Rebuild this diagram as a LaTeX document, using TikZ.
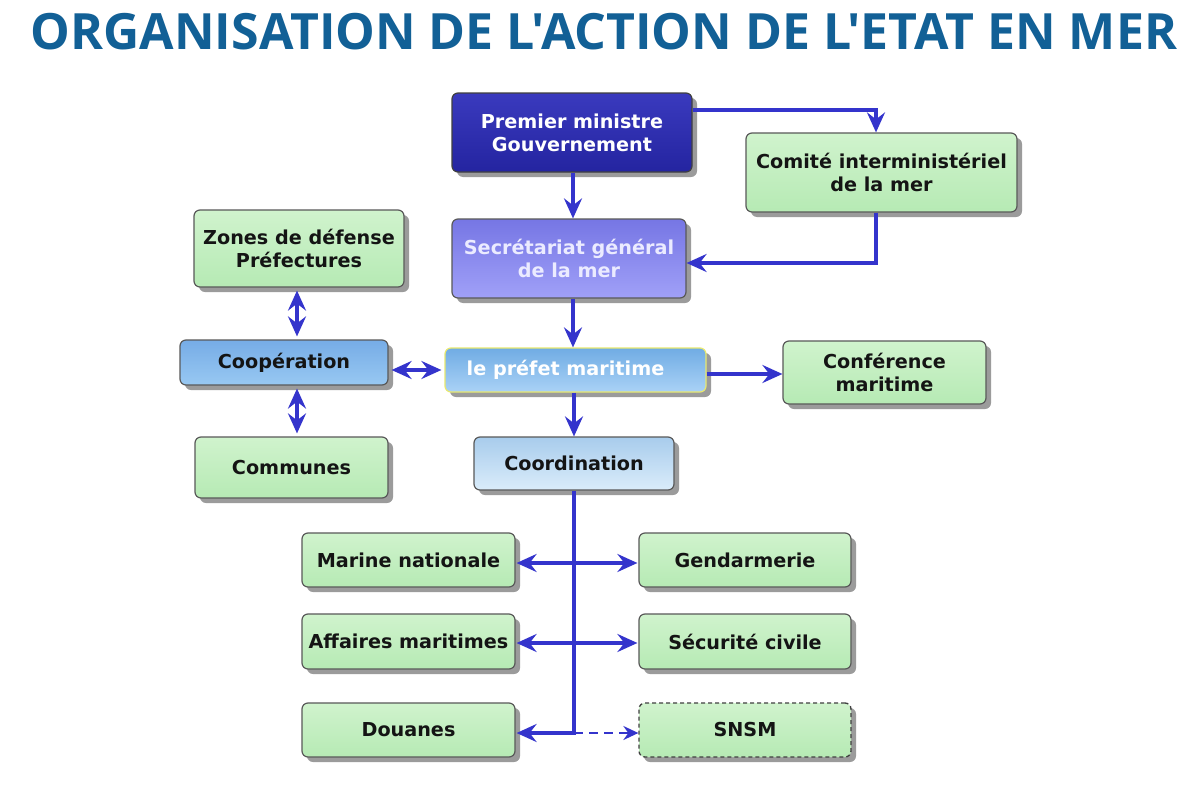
\documentclass[tikz,border=0pt]{standalone}
\usepackage{fontspec}
\setmainfont{DejaVu Sans}
\newfontfamily\titlefont{Open Sans}
\usetikzlibrary{arrows.meta,shadows,calc}
\definecolor{titleblue}{RGB}{18,96,150}
\definecolor{arrowblue}{RGB}{52,52,204}
\definecolor{gtop}{RGB}{208,243,205}
\definecolor{gbot}{RGB}{182,234,180}
\definecolor{pmtop}{RGB}{58,58,190}
\definecolor{pmbot}{RGB}{36,36,160}
\definecolor{sgtop}{RGB}{118,118,228}
\definecolor{sgbot}{RGB}{160,160,248}
\definecolor{cotop}{RGB}{118,172,230}
\definecolor{cobot}{RGB}{152,200,242}
\definecolor{prtop}{RGB}{112,172,228}
\definecolor{prbot}{RGB}{170,210,246}
\definecolor{cdtop}{RGB}{168,204,236}
\definecolor{cdbot}{RGB}{218,236,250}
\definecolor{prborder}{RGB}{232,232,110}
\begin{document}
\begin{tikzpicture}[x=1pt,y=-1pt,
  box/.style={draw=black!65, line width=1.2pt, rounded corners=6pt, align=center,
    inner sep=0pt, font=\bfseries\fontsize{19.2}{23}\selectfont,
    drop shadow={shadow xshift=5pt, shadow yshift=-5pt, fill=black!65, opacity=.6}},
  gbox/.style={box, top color=gtop, bottom color=gbot, text=black!92},
  pmbox/.style={box, top color=pmtop, bottom color=pmbot, text=white, draw=black!75},
  sgbox/.style={box, top color=sgtop, bottom color=sgbot, text=white!92!blue},
  cobox/.style={box, top color=cotop, bottom color=cobot, text=black!92},
  prbox/.style={box, top color=prtop, bottom color=prbot, text=white, draw=prborder},
  cdbox/.style={box, top color=cdtop, bottom color=cdbot, text=black!92},
  sz/.style n args={2}{minimum width=#1pt, minimum height=#2pt},
  conn/.style={draw=arrowblue, line width=3.4pt},
  arr/.style={conn, -{Stealth[length=20pt,width=18pt,inset=7pt]}},
  arrr/.style={conn, {Stealth[length=20pt,width=18pt,inset=7pt]}-{Stealth[length=20pt,width=18pt,inset=7pt]}},
]
\useasboundingbox (0,0) rectangle (1200,795);
\fill[white] (0,0) rectangle (1200,795);

\node[font=\titlefont\bfseries\fontsize{50}{56}\selectfont, text=titleblue] (title) at (604,32) {ORGANISATION DE L'ACTION DE L'ETAT EN MER};

\node[pmbox, sz={240}{79}] (pm) at (572,132.5) {Premier ministre\\Gouvernement};
\node[gbox, sz={271}{79}] (cim) at (881.5,172.5) {Comité interministériel\\de la mer};
\node[sgbox, sz={234}{79}] (sg) at (569,258.5) {Secrétariat général\\de la mer};
\node[gbox, sz={210}{77}] (zd) at (299,248.5) {Zones de défense\\Préfectures};
\node[cobox, sz={208}{45}] (coop) at (284,362.5) {Coopération};
\node[prbox, sz={261}{44}] (pref) at (575.5,370) {le préfet maritime\hspace*{20pt}};
\node[gbox, sz={203}{63}] (conf) at (884.5,372.5) {Conférence\\maritime};
\node[gbox, sz={193}{61}] (com) at (291.5,467.5) {Communes};
\node[cdbox, sz={200}{53}] (coord) at (574,463.5) {Coordination};
\node[gbox, sz={213}{54}] (mn) at (408.5,560) {Marine nationale};
\node[gbox, sz={212}{54}] (gd) at (745,560) {Gendarmerie};
\node[gbox, sz={213}{55}] (am) at (408.5,641.5) {Affaires maritimes};
\node[gbox, sz={212}{55}] (sc) at (745,641.5) {Sécurité civile};
\node[gbox, sz={213}{54}] (dou) at (408.5,730) {Douanes};
\node[gbox, sz={212}{54}, draw=black!75, dashed, dash pattern=on 4pt off 3pt, line width=1.3pt] (snsm) at (745,730) {SNSM};

% connectors
\draw[arr] ([xshift=1pt]pm.south) -- ([xshift=1pt]pm.south |- sg.north);
\draw[arr] ([yshift=22.5pt]pm.east) -| ([xshift=-5.5pt]cim.north);
\draw[arr] ([xshift=-5.5pt]cim.south) |- ([yshift=-4.5pt]sg.east);
\draw[arr] ([xshift=4pt]sg.south) -- ([xshift=4pt]sg.south |- pref.north);
\draw[arrr, shorten <=3pt, shorten >=3pt] ([xshift=-2pt]zd.south) -- ([xshift=-2pt]zd.south |- coop.north);
\draw[arrr, shorten <=3pt, shorten >=3pt] ([xshift=-2pt]zd.south |- coop.south) -- ([xshift=-2pt]zd.south |- com.north);
\draw[arrr, shorten <=3pt, shorten >=3pt] (coop.east |- pref.west) -- (pref.west);
\draw[arr] ([yshift=-4pt]pref.east) -- ([yshift=-4pt]pref.east -| conf.west);
\draw[arr] (coord.north |- pref.south) -- (coord.north);
\coordinate (tend) at ($(coord.south |- dou.east)+(0,3)$);
\draw[conn] (coord.south) -- (tend);
\draw[arrr, shorten <=1pt, shorten >=1pt] ([yshift=-3pt]mn.east) -- ([yshift=-3pt]gd.west);
\draw[arrr, shorten <=1pt, shorten >=1pt] ([yshift=-1.5pt]am.east) -- ([yshift=-1.5pt]sc.west);
\draw[arr, shorten >=1pt] ([xshift=1.7pt]tend) -- (tend -| dou.east);
\draw[draw=arrowblue, line width=2.2pt, dash pattern=on 9pt off 6pt, -{Stealth[length=15pt,width=14pt,inset=5pt]}] (tend) -- (tend -| snsm.west);
\end{tikzpicture}
\end{document}
